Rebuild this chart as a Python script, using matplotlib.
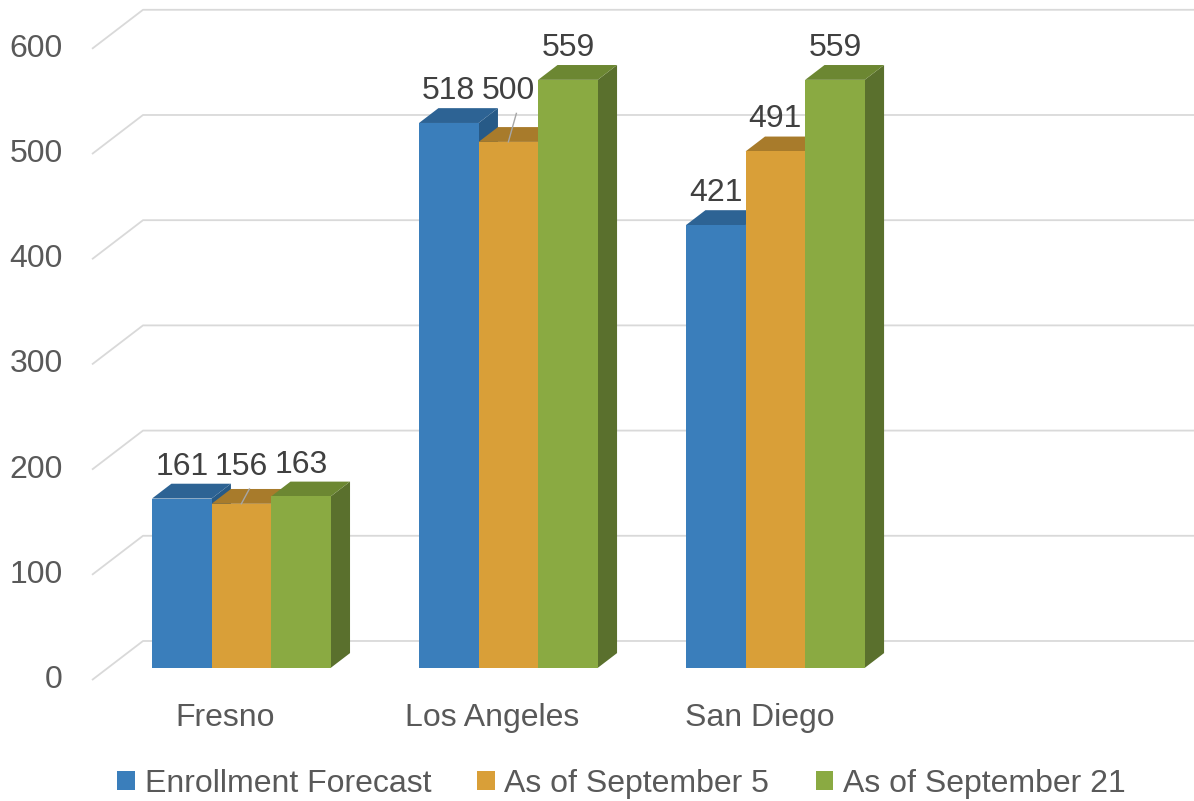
import matplotlib
matplotlib.use("Agg")
import matplotlib.pyplot as plt
from matplotlib.patches import Polygon, Patch

# data
cities = ["Fresno", "Los Angeles", "San Diego"]
series = ["Enrollment Forecast", "As of September 5", "As of September 21"]
forecast = [161, 518, 421]
sept5 = [156, 500, 491]
sept21 = [163, 559, 559]
yticks = [0, 100, 200, 300, 400, 500, 600]

# colours: front, top, side
front_cols = ["#3a7ebb", "#d99f38", "#8aaa42"]
top_cols = ["#2d6394", "#a87b2b", "#6c8732"]
side_cols = ["#275a87", "#8f6824", "#5a702d"]
grid_col = "#d9d9d9"
txt_col = "#595959"

plt.rcParams['font.family'] = ['Liberation Sans', 'DejaVu Sans']
FS = 23

# fake 3D: full wall depth and bar depth (fraction of full depth)
DX, DY = 0.191, 37.1
F0, F1 = 0.31, 0.69
BW = 0.223
n_slots = 4  # Excel left one blank slot at the right

fig = plt.figure(figsize=(11.94, 8.01), dpi=100)
ax = fig.add_axes([0, 0, 1, 1])
ax.set_xlim(-0.8446, 3.627)
ax.set_ylim(-115, 646.4)
ax.axis("off")

x_left = -0.5
x_right = x_left + n_slots * 0.986

# gridlines: short diagonal on the floor side, then back wall
for v in yticks:
    ax.plot([x_left, x_left + DX, x_right + DX], [v, v + DY, v + DY],
            color=grid_col, lw=1.3, solid_capstyle="butt", zorder=1)
    ax.text(x_left - 0.109, v, str(v), ha="right", va="center",
            fontsize=FS, color=txt_col)

values = [forecast, sept5, sept21]
ox, oy = F0 * DX, F0 * DY
ddx, ddy = (F1 - F0) * DX, (F1 - F0) * DY

for i, city in enumerate(cities):
    label_y = []
    for j in range(3):
        v = values[j][i]
        x0 = i + (j - 1.5) * BW + ox
        x1 = x0 + BW
        y0, y1 = oy, v + oy
        z = 2 + j
        side = Polygon([(x1, y0), (x1 + ddx, y0 + ddy), (x1 + ddx, y1 + ddy), (x1, y1)],
                       closed=True, fc=side_cols[j], ec="none", zorder=z)
        top = Polygon([(x0, y1), (x1, y1), (x1 + ddx, y1 + ddy), (x0 + ddx, y1 + ddy)],
                      closed=True, fc=top_cols[j], ec="none", zorder=z)
        front = Polygon([(x0, y0), (x1, y0), (x1, y1), (x0, y1)],
                        closed=True, fc=front_cols[j], ec="none", zorder=z)
        for p in (side, top, front):
            ax.add_patch(p)

        # data label, lifted to the neighbour's level when it would collide
        ly = y1 + ddy + 2
        cx = (x0 + x1) / 2
        lifted = j > 0 and v < values[j - 1][i]
        if lifted:
            ly = label_y[-1]
            ax.plot([cx + 0.03, cx], [ly - 7, y1], color="#a6a6a6", lw=1, zorder=10)
        label_y.append(ly)
        ax.text(cx, ly, str(v), ha="center", va="bottom", fontsize=FS,
                color="#404040", zorder=11)

    ax.text(i, -36, city, ha="center", va="center", fontsize=FS, color=txt_col)

handles = [Patch(facecolor=c, edgecolor="none") for c in front_cols]
fig.legend(handles, series, loc="center", bbox_to_anchor=(0.5205, 17 / 801),
           ncol=3, frameon=False, fontsize=FS, labelcolor=txt_col,
           handlelength=0.55, handleheight=0.55, handletextpad=0.3,
           columnspacing=1.45)

fig.savefig("out.png", dpi=100, facecolor="white")
